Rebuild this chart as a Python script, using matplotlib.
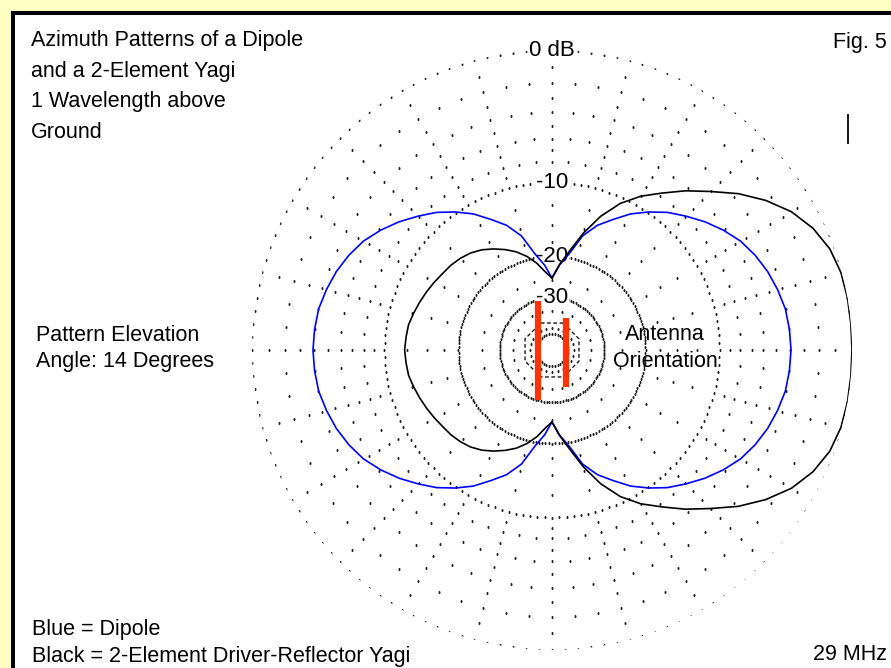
import numpy as np
import matplotlib
matplotlib.use('Agg')
import matplotlib.pyplot as plt
from matplotlib.patches import Rectangle
from matplotlib.lines import Line2D

plt.rcParams['font.family'] = ['Liberation Sans', 'DejaVu Sans']

W, H = 891, 668

# azimuth in degrees, clockwise from the top of the plot
azimuth = np.arange(0, 360, 5)

dipole_db = [-24.5, -21.6, -19.3, -16.0, -14.0, -12.6, -11.1, -9.9, -8.8, -7.9,
             -7.0, -6.2, -5.5, -5.0, -4.6, -4.3, -4.05, -3.95, -3.9,
             -3.95, -4.05, -4.3, -4.6, -5.0, -5.5, -6.2, -7.0, -7.9, -8.8,
             -9.9, -11.1, -12.6, -14.0, -16.0, -19.3, -21.6,
             -24.5, -21.6, -19.3, -16.0, -14.0, -12.6, -11.1, -9.9, -8.8, -7.9,
             -7.0, -6.2, -5.5, -5.0, -4.6, -4.3, -4.05, -3.95, -3.9,
             -3.95, -4.05, -4.3, -4.6, -5.0, -5.5, -6.2, -7.0, -7.9, -8.8,
             -9.9, -11.1, -12.6, -14.0, -16.0, -19.3, -21.6]

yagi_db = [-24.5, -21.5, -18.8, -15.6, -12.8, -10.6, -9.0, -7.7, -6.3, -5.0,
           -3.6, -2.4, -1.4, -0.7, -0.25, -0.05, 0.0, 0.0, 0.0,
           0.0, 0.0, -0.05, -0.25, -0.7, -1.4, -2.4, -3.6, -5.0, -6.3,
           -7.7, -9.0, -10.6, -12.8, -15.6, -18.8, -21.5,
           -24.5, -23.0, -21.0, -19.4, -18.1, -17.1, -16.2, -15.4, -14.8, -14.4,
           -14.1, -13.9, -13.6, -13.3, -13.0, -12.7, -12.4, -12.3, -12.2,
           -12.3, -12.4, -12.7, -13.0, -13.3, -13.6, -13.9, -14.1, -14.4, -14.8,
           -15.4, -16.2, -17.1, -18.1, -19.4, -21.0, -23.0]

# grid: dotted rings (dB) with their dot spacing in degrees
ring_db = [0, -2, -4, -6, -8, -10, -20, -30, -50]
ring_step = [2.5, 5, 5, 5, 5, 2.5, 2, 3, 10]
spoke_az = np.arange(0, 360, 15)
spoke_db = [-1, -3, -5, -7, -9, -12.5, -15, -17.5, -25, -35, -45]
octagon_db = -40
label_db = [0, -10, -20, -30]
label_txt = ['0 dB', '-10', '-20', '-30']

# antenna elements (fraction of plot radius): reflector, driver
element_x = [-0.047, 0.048]
element_y = [0.0, -0.008]
element_half = [0.165, 0.115]


def arrl(db):
    # ARRL log-periodic scale: 0.89 per 2 dB
    return 0.89 ** (-np.asarray(db, dtype=float) / 2)


fig = plt.figure(figsize=(W / 100, H / 100), dpi=100)
fig.patch.set_facecolor('#FFFFC4')
fig.add_artist(Rectangle((13 / W, -0.05), 1.2, 1.05 - 13 / H, transform=fig.transFigure,
                         fc='white', ec='black', lw=2.9, zorder=-1))

rect = [252 / W, 18 / H, 600 / W, 600 / H]
ax = fig.add_axes(rect, projection='polar')
ax.set_theta_zero_location('N')
ax.set_theta_direction(-1)
ax.set_rlim(0, 1)
ax.set_axis_off()

dot = dict(ls='none', marker='s', ms=1.4, mew=0, color='#222222', zorder=1)
for db, step in zip(ring_db, ring_step):
    th = np.deg2rad(np.arange(0, 360, step))
    ax.plot(th, np.full(th.shape, arrl(db)), **dot)
for a in spoke_az:
    ax.plot(np.full(len(spoke_db), np.deg2rad(a)), arrl(spoke_db), **dot)
th = np.deg2rad(np.arange(22.5, 383, 45))
ax.plot(th, np.full(th.shape, arrl(octagon_db)), color='black', lw=0.9,
        ls=(0, (3, 2)), zorder=1)

for db, s in zip(label_db, label_txt):
    ax.text(0, arrl(db), s, ha='center', va='center', fontsize=16, zorder=2,
            bbox=dict(fc='white', ec='none', pad=1))

th = np.deg2rad(np.append(azimuth, 360))
ax.plot(th, arrl(np.append(dipole_db, dipole_db[0])), color='#0000FF', lw=1.2, zorder=3)
ax.plot(th, arrl(np.append(yagi_db, yagi_db[0])), color='black', lw=1.2, zorder=3)

axc = fig.add_axes(rect)
axc.set_xlim(-1, 1)
axc.set_ylim(-1, 1)
axc.set_axis_off()
ey = np.array(element_y)
eh = np.array(element_half)
axc.vlines(element_x, ey - eh, ey + eh, color='#FF3300', lw=4.5, zorder=4)


def ftext(x, y, s, **kw):
    fig.text(x / W, 1 - y / H, s, va='baseline', fontsize=15.5, **kw)


ftext(31, 45.7, 'Azimuth Patterns of a Dipole')
ftext(31, 76.5, 'and a 2-Element Yagi')
ftext(31, 107.4, '1 Wavelength above')
ftext(31, 138.3, 'Ground')
ftext(833, 48, 'Fig. 5')
ftext(36, 341, 'Pattern Elevation')
ftext(36, 367, 'Angle: 14 Degrees')
ftext(665, 340, 'Antenna', ha='center')
ftext(665, 367, 'Orientation', ha='center')
ftext(32, 635, 'Blue = Dipole')
ftext(32, 662, 'Black = 2-Element Driver-Reflector Yagi')
ftext(887, 660, '29 MHz', ha='right')
fig.add_artist(Line2D([848 / W, 848 / W], [1 - 115 / H, 1 - 143 / H], color='black', lw=1.3))

fig.savefig('out.png', dpi=100)
